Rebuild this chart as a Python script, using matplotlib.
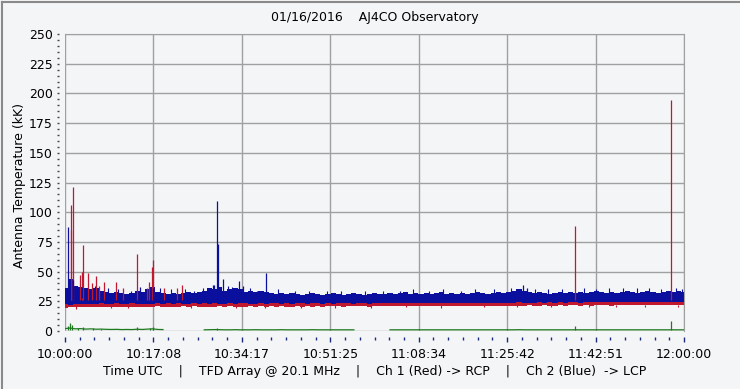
"""AJ4CO Observatory antenna temperature, 01/16/2016 (TFD array, 20.1 MHz)."""

import numpy as np
import matplotlib

matplotlib.use("Agg")
import matplotlib.pyplot as plt

OUT = "out.png"

# minutes after 10:00:00 UTC, one sample per minute
T_MIN = list(range(121))

# upper edge of the blue (LCP) noise band, kK
BLUE_HI = [36, 44, 38, 37, 36, 35, 36, 34, 33, 32, 33, 32, 31, 32, 34, 33, 35, 37, 33, 32,
           31, 32, 31, 32, 33, 32, 33, 34, 36, 35, 37, 34, 35, 36, 35, 33, 34, 33, 34, 33,
           32, 31, 32, 31, 32, 31, 30, 31, 32, 31, 30, 31, 32, 31, 30, 31, 32, 31, 30, 31,
           32, 31, 31, 32, 31, 32, 33, 31, 32, 31, 32, 31, 32, 33, 31, 32, 31, 32, 31, 32,
           33, 32, 31, 32, 33, 32, 33, 34, 35, 34, 33, 32, 33, 32, 31, 32, 33, 32, 33, 32,
           33, 32, 33, 34, 33, 32, 33, 32, 33, 34, 33, 32, 33, 34, 33, 32, 33, 34, 33, 34, 33]
# lower edge of the blue band
BLUE_LO = [22.5, 22.0, 22.5, 23.0, 22.5, 23.0, 22.8, 23.2, 22.8, 23.0, 23.3, 22.8, 23.0, 23.4, 22.9, 23.1, 22.7, 23.0, 23.3, 22.9,
           23.2, 23.0, 23.4, 22.9, 23.1, 23.3, 22.8, 23.2, 23.0, 23.4, 23.1, 22.9, 23.3, 23.0, 23.2, 23.4, 22.9, 23.1, 23.3, 23.0,
           23.2, 23.4, 23.0, 23.3, 23.1, 23.4, 23.2, 23.0, 23.3, 23.5, 23.1, 23.3, 23.0, 23.4, 23.2, 23.5, 23.1, 23.3, 23.4, 23.1,
           23.5, 23.2, 23.4, 23.6, 23.2, 23.5, 23.3, 23.6, 23.4, 23.2, 23.5, 23.7, 23.3, 23.6, 23.4, 23.7, 23.5, 23.3, 23.6, 23.8,
           23.4, 23.7, 23.5, 23.8, 23.6, 23.9, 23.5, 23.8, 24.0, 23.6, 23.9, 23.7, 24.0, 23.8, 24.1, 23.9, 24.2, 23.8, 24.1, 24.3,
           23.9, 24.2, 24.4, 24.0, 24.3, 24.5, 24.1, 24.4, 24.2, 24.5, 24.3, 24.6, 24.2, 24.5, 24.7, 24.3, 24.6, 24.4, 24.7, 24.5, 24.8]
# lower edge of the red (RCP) noise band (its upper part is hidden by blue)
RED_LO = [19.5, 19.8, 20.2, 19.9, 20.3, 20.0, 20.4, 20.1, 20.5, 20.2, 20.6, 20.3, 20.5, 20.1, 20.6, 20.3, 20.0, 20.4, 20.7, 20.3,
          20.6, 20.2, 20.5, 20.8, 20.4, 20.7, 20.3, 20.6, 20.2, 20.5, 20.8, 20.4, 20.7, 20.5, 20.2, 20.6, 20.9, 20.5, 20.7, 20.4,
          20.8, 20.5, 20.9, 20.6, 20.4, 20.8, 20.5, 20.9, 20.6, 20.8, 20.5, 20.9, 20.7, 21.0, 20.6, 20.9, 20.7, 21.0, 20.8, 20.6,
          21.0, 20.7, 20.9, 21.1, 20.8, 21.0, 20.7, 21.1, 20.9, 21.2, 20.8, 21.0, 21.2, 20.9, 21.1, 20.8, 21.2, 21.0, 21.3, 20.9,
          21.1, 21.3, 21.0, 21.2, 21.4, 21.0, 21.3, 21.1, 21.4, 21.2, 21.5, 21.1, 21.3, 21.5, 21.2, 21.4, 21.6, 21.3, 21.5, 21.7,
          21.4, 21.6, 21.3, 21.7, 21.5, 21.8, 21.4, 21.7, 21.9, 21.5, 21.8, 21.6, 21.9, 21.7, 22.0, 21.6, 21.9, 21.7, 22.0, 21.8, 22.1]

# short noise whiskers poking out of the bands
BLUE_WHISK_T = [3.2, 5.8, 8.4, 10.3, 12.7, 18.4, 20.6, 23.3, 25.1, 26.8, 31.6, 32.4, 35.9, 41.2,
                44.6, 47.3, 50.8, 53.5, 58.2, 61.7, 64.9, 67.4, 70.6, 73.2, 76.8, 79.5, 83.1,
                86.4, 91.2, 93.7, 96.3, 100.6, 102.9, 105.4, 108.1, 110.8, 113.2, 115.6, 118.4, 119.6]
BLUE_WHISK_V = [37, 38, 36, 35, 34, 36, 35, 35, 34, 36, 38, 37, 36, 35,
                34, 34, 34, 34, 34, 33.5, 34, 35, 34, 35, 34, 35, 35,
                36, 35, 35, 35, 36, 35, 36, 36, 36, 36, 35, 36, 35]
RED_DIP_T = [2.1, 8.9, 12.2, 24.5, 33.1, 38.7, 45.8, 52.3, 59.4, 66.1, 72.9, 81.2, 87.6, 94.3,
             101.5, 106.8, 112.4, 118.9]
RED_DIP_V = [18.5, 19.0, 19.0, 19.2, 19.0, 19.5, 19.5, 19.6, 19.3, 19.8, 19.5, 19.9, 19.8, 20.1,
             20.0, 20.3, 20.4, 20.5]

# solitary bursts / RFI spikes
RED_SPIKE_T = [1.15, 1.5, 1.25, 2.9, 3.3, 3.55, 4.4, 5.3, 6.1, 6.6, 7.6, 9.8, 11.3, 14.0, 15.9,
               16.3, 16.8, 17.06, 19.1, 21.7, 22.6, 98.9, 117.5]
RED_SPIKE_V = [106, 121.5, 85, 47, 50, 72.4, 48.8, 40, 46, 38, 41, 41, 36, 64.8, 36,
               41, 54, 60, 36, 36, 38.7, 88, 194.4]
BLUE_SPIKE_T = [0.64, 0.9, 1.6, 2.3, 14.5, 17.0, 28.75, 28.9, 29.5, 29.7, 30.7, 33.8, 34.6,
                37.3, 39.0, 88.8, 89.5]
BLUE_SPIKE_V = [87.8, 44, 43, 38, 37, 36, 38.7, 38.7, 109.4, 73.2, 43.7, 42, 38,
                34, 48.6, 38.7, 36]

# green trace, NaN where no data
NAN = float("nan")
GREEN = [2.0, 2.5, 1.8, 2.0, 1.6, 1.8, 1.5, 1.6, 1.4, 1.3, 1.4, 1.2, 1.3, 1.2, 1.5, 1.3, 1.6, 1.8, 1.3, 1.2,
         NAN, NAN, NAN, NAN, NAN, NAN, NAN, 1.0, 1.1, 1.2, 1.1, 1.0, 1.0, 1.1, 1.0, 1.0, 1.0, 1.1, 1.0, 1.0,
         1.0, 1.0, 1.1, 1.0, 1.0, 1.0, 1.0, 1.0, 1.1, 1.0, 1.0, 1.0, 1.0, 1.0, 1.0, 1.0, 1.0, NAN, NAN, NAN,
         NAN, NAN, NAN, 1.0, 1.0, 1.0, 1.0, 1.0, 1.0, 1.0, 1.0, 1.0, 1.0, 1.0, 1.0, 1.0, 1.0, 1.0, 1.0, 1.0,
         1.0, 1.0, 1.0, 1.0, 1.0, 1.0, 1.0, 1.0, 1.1, 1.0, 1.0, 1.0, 1.0, 1.0, 1.0, 1.0, 1.0, 1.0, 1.0, 1.0,
         1.0, 1.0, 1.0, 1.0, 1.0, 1.0, 1.0, 1.0, 1.0, 1.0, 1.0, 1.0, 1.0, 1.0, 1.0, 1.0, 1.0, 1.0, 1.0, 1.0, 1.0]
GREEN_SPIKE_T = [0.5, 1.0, 1.4, 2.5, 3.5, 5.5, 7.0, 14.0, 16.5, 17.0, 29.5, 98.9, 117.5]
GREEN_SPIKE_V = [4.0, 6.7, 5.0, 2.5, 3.0, 2.5, 2.0, 3.6, 2.5, 3.6, 2.5, 4.5, 8.4]

X_TICKLABELS = ["10:00:00", "10:17:08", "10:34:17", "10:51:25", "11:08:34", "11:25:42", "11:42:51", "12:00:00"]

BG = "#f4f5f7"
RED = "#c0182f"
BLUE = "#0a0f9e"
GREEN_C = "#1e7a1e"
GRID = "#a0a0a0"


def main():
    plt.rcParams["font.family"] = "DejaVu Sans"
    fig = plt.figure(figsize=(7.4, 3.89), dpi=100, facecolor=BG)
    ax = fig.add_axes([65 / 740, 1 - 331 / 389, 619 / 740, 297 / 389], facecolor=BG)

    t = np.array(T_MIN, dtype=float)
    ax.fill_between(t, RED_LO, 26, color=RED, lw=0, step="mid")
    ax.vlines(RED_DIP_T, 22, RED_DIP_V, color=RED, lw=0.8)
    ax.vlines(RED_SPIKE_T, 26, RED_SPIKE_V, color=RED, lw=0.9)
    ax.fill_between(t, BLUE_LO, BLUE_HI, color=BLUE, lw=0, step="mid")
    ax.vlines(BLUE_WHISK_T, 28, BLUE_WHISK_V, color=BLUE, lw=0.8)
    ax.vlines(BLUE_SPIKE_T, 26, BLUE_SPIKE_V, color=BLUE, lw=0.9)
    ax.plot(t, GREEN, color=GREEN_C, lw=0.9)
    ax.vlines(GREEN_SPIKE_T, 0.8, GREEN_SPIKE_V, color=GREEN_C, lw=0.9)

    ax.set_xlim(0, 120)
    ax.set_ylim(0, 250)
    ax.set_xticks(np.linspace(0, 120, 8))
    ax.set_xticklabels(X_TICKLABELS)
    ax.set_xticks(np.linspace(0, 120, 43), minor=True)
    ax.set_yticks(np.arange(0, 251, 25))
    ax.set_yticks(np.arange(0, 251, 5), minor=True)

    ax.grid(True, color=GRID, lw=1)
    ax.set_axisbelow(True)
    for s in ("top", "right"):
        ax.spines[s].set_color(GRID)
    for s in ("left", "bottom"):
        ax.spines[s].set_position(("outward", 4))
        ax.spines[s].set_visible(False)

    ax.tick_params(axis="y", which="both", length=1.5, width=1, color="#444444", pad=3.5, labelsize=9)
    ax.tick_params(axis="x", which="major", length=3.5, width=1, color="#1a2a78", pad=5, labelsize=9)
    ax.tick_params(axis="x", which="minor", length=2, width=1, color="#1a2a78")

    fig.text(20 / 740, 1 - 185 / 389, "Antenna Temperature (kK)", rotation=90,
             ha="center", va="center", fontsize=9)
    fig.text(375 / 740, 1 - 18 / 389, "01/16/2016    AJ4CO Observatory", ha="center", va="center", fontsize=9)
    fig.text(375 / 740, 1 - 372 / 389,
             "Time UTC    |    TFD Array @ 20.1 MHz    |    Ch 1 (Red) -> RCP    |    Ch 2 (Blue)  -> LCP",
             ha="center", va="center", fontsize=9)

    # window frame
    fig.add_artist(plt.Line2D([1.5 / 740, 1.5 / 740], [0, 1 - 2 / 389], color="#8a8a8a", lw=1.5))
    fig.add_artist(plt.Line2D([1.5 / 740, 1], [1 - 2 / 389, 1 - 2 / 389], color="#8a8a8a", lw=1.5))

    fig.savefig(OUT, dpi=100, facecolor=BG)


if __name__ == "__main__":
    main()
